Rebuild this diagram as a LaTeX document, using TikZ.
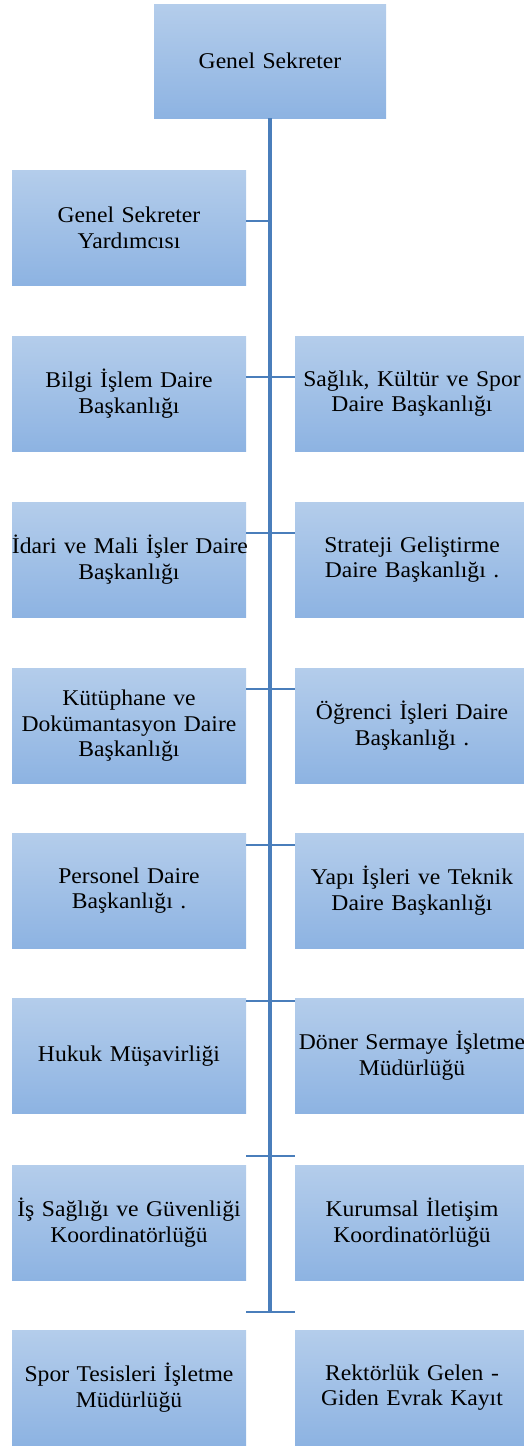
\documentclass[tikz,border=0pt]{standalone}
\usepackage{fontspec}
\setmainfont{Liberation Serif}[FakeStretch=1.05]
\usetikzlibrary{positioning}

\definecolor{boxtop}{HTML}{B4CDEB}
\definecolor{boxbot}{HTML}{8DB3E2}
\definecolor{linkblue}{HTML}{4A7EBB}

\begin{document}
\begin{tikzpicture}[x=1pt, y=-1pt,
        unit/.style={anchor=north, text width=234pt, minimum height=115pt, inner sep=0pt,
            top color=boxtop, bottom color=boxbot, align=center,
            font=\fontsize{22.5}{25.7}\selectfont},
        trunk/.style={draw=linkblue, line width=3.5pt},
        tie/.style={draw=linkblue, line width=2pt}]
    \useasboundingbox (0,0) rectangle (524,1448);
    \clip (0,0) rectangle (524,1448);

    \node[unit, text width=232pt, minimum height=114pt] (gs) at (270,4) {Genel Sekreter};

    \node[unit] (l1) at (129,170) {Genel Sekreter\\Yardımcısı};
    \node[unit] (l2) at (129,336) {Bilgi İşlem Daire\\Başkanlığı};
    \node[unit] (r2) at (412,336) {\mbox{Sağlık, Kültür ve Spor}\\Daire Başkanlığı};
    \node[unit] (l3) at (129,502) {\mbox{İdari ve Mali İşler Daire}\\Başkanlığı};
    \node[unit] (r3) at (412,502) {Strateji Geliştirme\\Daire Başkanlığı .};
    \node[unit] (l4) at (129,668) {Kütüphane ve\\Dokümantasyon Daire\\Başkanlığı};
    \node[unit] (r4) at (412,668) {Öğrenci İşleri Daire\\Başkanlığı .};
    \node[unit] (l5) at (129,833) {Personel Daire\\Başkanlığı .};
    \node[unit] (r5) at (412,833) {Yapı İşleri ve Teknik\\Daire Başkanlığı};
    \node[unit] (l6) at (129,998) {Hukuk Müşavirliği};
    \node[unit] (r6) at (412,998) {\mbox{Döner Sermaye İşletme}\\Müdürlüğü};
    \node[unit] (l7) at (129,1165) {\mbox{İş Sağlığı ve Güvenliği}\\Koordinatörlüğü};
    \node[unit] (r7) at (412,1165) {Kurumsal İletişim\\Koordinatörlüğü};
    \node[unit] (l8) at (129,1330) {Spor Tesisleri İşletme\\Müdürlüğü};
    \node[unit] (r8) at (412,1330) {Rektörlük Gelen -\\Giden Evrak Kayıt};

    % junctions on the trunk
    \coordinate (c1) at (270,221);
    \coordinate (c2) at (270,377);
    \coordinate (c3) at (270,533);
    \coordinate (c4) at (270,689);
    \coordinate (c5) at (270,845);
    \coordinate (c6) at (270,1001);
    \coordinate (c7) at (270,1156);
    \coordinate (c8) at (270,1312);

    \draw[trunk] (gs.south) -- (c8);
    \draw[tie] (l1.east |- c1) -- (c1);
    \draw[tie] (l2.east |- c2) -- (r2.west |- c2);
    \draw[tie] (l3.east |- c3) -- (r3.west |- c3);
    \draw[tie] (l4.east |- c4) -- (r4.west |- c4);
    \draw[tie] (l5.east |- c5) -- (r5.west |- c5);
    \draw[tie] (l6.east |- c6) -- (r6.west |- c6);
    \draw[tie] (l7.east |- c7) -- (r7.west |- c7);
    \draw[tie] (l8.east |- c8) -- (r8.west |- c8);
\end{tikzpicture}
\end{document}
